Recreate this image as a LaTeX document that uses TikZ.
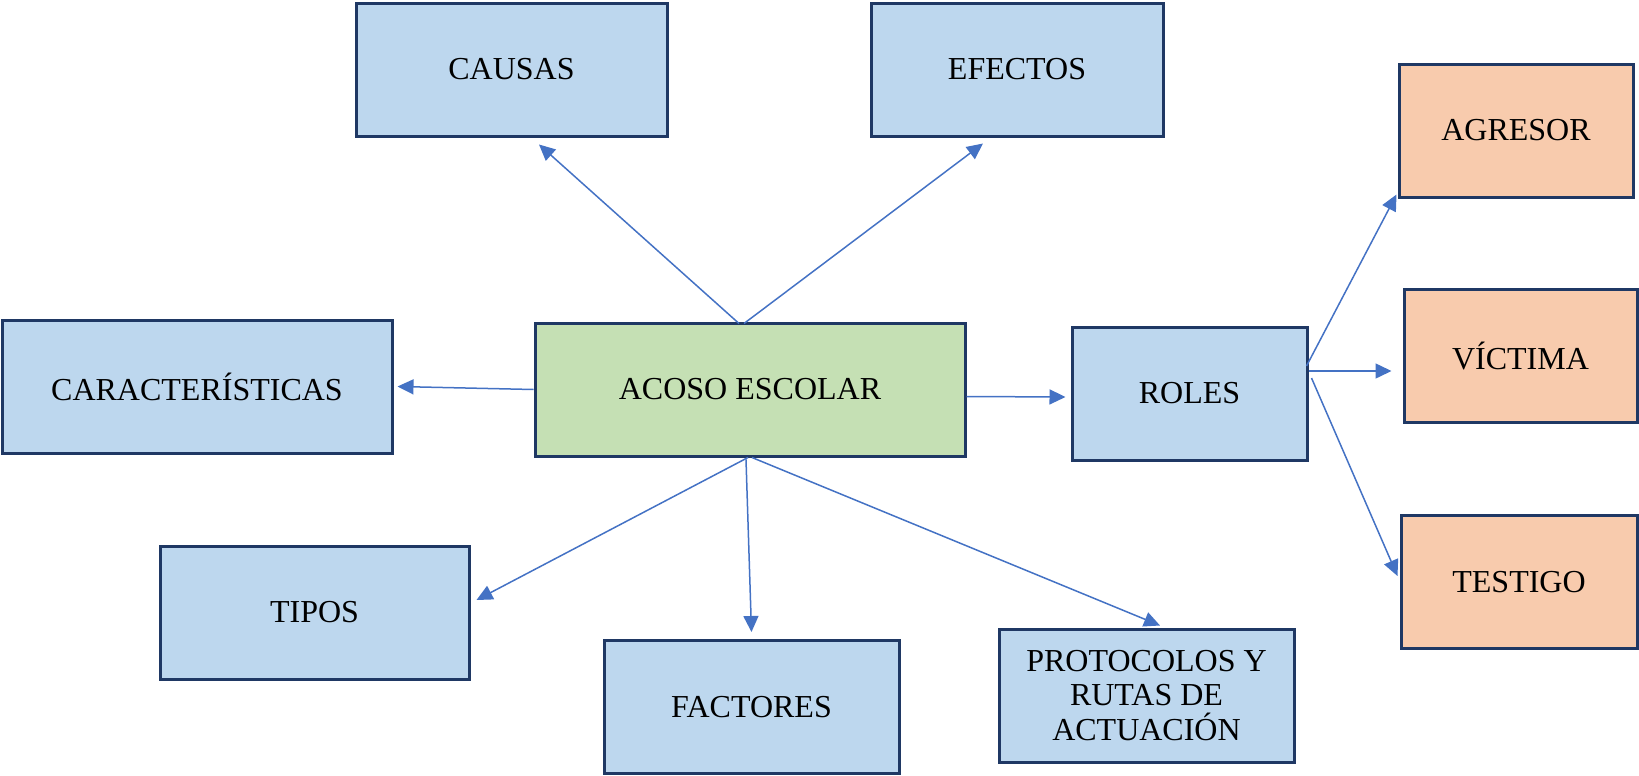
\documentclass[tikz,border=0pt]{standalone}
\usepackage{fontspec}
\setmainfont{Liberation Serif}
\usetikzlibrary{arrows.meta, calc}
\definecolor{navy}{HTML}{1F3864}
\definecolor{skyfill}{HTML}{BDD7EE}
\definecolor{sagefill}{HTML}{C5E0B4}
\definecolor{peachfill}{HTML}{F8CBAD}
\definecolor{linkblue}{HTML}{4472C4}
\begin{document}
\begin{tikzpicture}[
      x=0.5pt,y=-0.5pt,
      block/.style={
        minimum height=66.5pt,
        align=center,
        draw=navy,
        line width=1.5pt,
        fill=skyfill,
        font=\fontsize{16}{17.25}\selectfont,
      },
      link/.style={
        -{Triangle[length=8pt,width=7.5pt]},
        draw=linkblue,
        line width=0.75pt,
      },
      ]
      \useasboundingbox (0,0) rectangle (1639,776);
      % central topic
      \node[block,fill=sagefill,minimum width=215pt] (acoso) at (750,389.5) {ACOSO ESCOLAR};
      \node[block,minimum width=155.5pt] (causas) at (511.5,69.5) {CAUSAS};
      \node[block,minimum width=146pt] (efectos) at (1017,69.5) {EFECTOS};
      \node[block,minimum width=195pt] (carac) at (197,386.5) {CARACTERÍSTICAS};
      \node[block,minimum width=117.5pt] (roles) at (1189.5,393.5) {ROLES};
      \node[block,minimum width=154.5pt] (tipos) at (314.5,612.5) {TIPOS};
      \node[block,minimum width=147.5pt] (factores) at (751.5,707) {FACTORES};
      \node[block,minimum width=147.5pt] (protocolos) at (1146.5,695.5) {PROTOCOLOS Y\\RUTAS DE\\ACTUACIÓN};
      % roles
      \node[block,fill=peachfill,minimum width=117pt] (agresor) at (1516,130.5) {AGRESOR};
      \node[block,fill=peachfill,minimum width=116.5pt] (victima) at (1520.5,356) {VÍCTIMA};
      \node[block,fill=peachfill,minimum width=118pt] (testigo) at (1519,582) {TESTIGO};
      \draw[link] ($(acoso.north)+(-11,2)$) -- ($(causas.south)+(27.5,7)$);
      \draw[link] ($(acoso.north)+(-6,2)$) -- ($(efectos.south)+(-34,6)$);
      \draw[link] (acoso.west) -- ($(carac.east)+(4,0)$);
      \draw[link] ($(acoso.east)+(0,7)$) -- ($(roles.west)+(-5,3.5)$);
      \draw[link] ($(acoso.south)+(-2,0)$) -- ($(tipos.east)+(6,-12.5)$);
      \draw[link] ($(acoso.south)+(-4,2)$) -- ($(factores.north)+(0,-7)$);
      \draw[link] ($(acoso.south)+(2,0)$) -- ($(protocolos.north)+(13.5,-2)$);
      \draw[link] ($(roles.east)+(-2,-27.5)$) -- ($(agresor.south west)+(-1,-4)$);
      \draw[link] ($(roles.east)+(0,-22.5)$) -- ($(victima.west)+(-11,15)$);
      \draw[link] ($(roles.east)+(3,-15.5)$) -- ($(testigo.west)+(-2,-6)$);
    \end{tikzpicture}
\end{document}
